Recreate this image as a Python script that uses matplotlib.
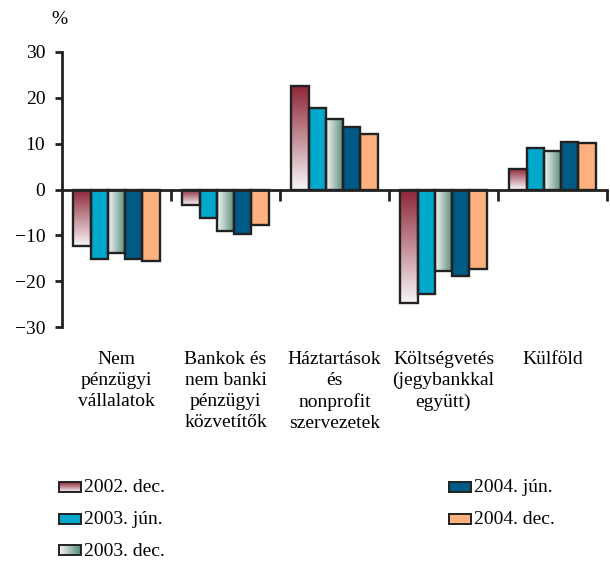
import numpy as np
import matplotlib.pyplot as plt
from matplotlib.colors import to_rgb
from matplotlib.patches import Rectangle

plt.rcParams['font.family'] = ['Liberation Serif', 'DejaVu Serif']

# adatok (leolvasva az abrarol)
categories = ["Nem\npénzügyi\nvállalatok",
              "Bankok és\nnem banki\npénzügyi\nközvetítők",
              "Háztartások\nés\nnonprofit\nszervezetek",
              "Költségvetés\n(jegybankkal\negyütt)",
              "Külföld"]
series = ["2002. dec.", "2003. jún.", "2003. dec.", "2004. jún.", "2004. dec."]
dec_2002 = [-12.4, -3.3, 22.6, -24.7, 4.4]
jun_2003 = [-15.2, -6.3, 17.7, -22.8, 9.1]
dec_2003 = [-13.9, -9.0, 15.3, -17.8, 8.4]
jun_2004 = [-15.2, -9.8, 13.6, -18.9, 10.3]
dec_2004 = [-15.7, -7.7, 12.2, -17.4, 10.1]
yticks = [-30, -20, -10, 0, 10, 20, 30]

values = [dec_2002, jun_2003, dec_2003, jun_2004, dec_2004]

# kitoltesek: ('v', felso, also) fuggoleges atmenet, ('h', bal, jobb), ('s', szin)
fills = [('v', '#8e2537', '#f6f4f6'),
         ('s', '#00a8cc'),
         ('h', '#f4f6f6', '#558a76'),
         ('s', '#005a86'),
         ('s', '#fdb17e')]
edge = '#222222'
fs = 14


def grad(c1, c2, vertical):
    t = np.linspace(0, 1, 64)[:, None]
    arr = (1 - t) * np.array(to_rgb(c1)) + t * np.array(to_rgb(c2))
    return arr[:, None, :] if vertical else arr[None, :, :]


def fill_rect(axis, x0, x1, ylo, yhi, f, z=2):
    if f[0] == 's':
        axis.add_patch(Rectangle((x0, ylo), x1 - x0, yhi - ylo, facecolor=f[1],
                                 edgecolor='none', zorder=z))
    else:
        img = grad(f[1], f[2], f[0] == 'v')
        axis.imshow(img, extent=[x0, x1, ylo, yhi], origin='upper',
                    aspect='auto', interpolation='bilinear', zorder=z)


fig = plt.figure(figsize=(6.1, 5.62), dpi=100)
ax = fig.add_axes([62 / 610, 1 - 327 / 562, 545 / 610, 275 / 562])

x = np.arange(len(categories)) + 0.5
w = 0.158
for i, vals in enumerate(values):
    bars = ax.bar(x + (i - 2) * w, vals, w, facecolor='none', edgecolor=edge,
                  linewidth=1.7, zorder=3)
    for b in bars:
        x0 = b.get_x()
        y0 = b.get_y()
        h = b.get_height()
        fill_rect(ax, x0, x0 + b.get_width(), min(y0, y0 + h), max(y0, y0 + h), fills[i])

ax.set_xlim(0, 5)
ax.set_ylim(-30, 30)
ax.set_yticks(yticks)
ax.set_yticklabels([str(t).replace('-', '\u2212') for t in yticks], fontsize=fs)
ax.set_xticks([1, 2, 3, 4, 5])
ax.set_xticklabels([])
for s in ['top', 'right']:
    ax.spines[s].set_visible(False)
ax.spines['bottom'].set_position(('data', 0))
ax.spines['bottom'].set_zorder(4)
ax.spines['left'].set_linewidth(2)
ax.spines['bottom'].set_linewidth(2)
ax.spines['left'].set_color(edge)
ax.spines['bottom'].set_color(edge)
ax.tick_params(axis='y', direction='out', length=5, width=2, pad=7, color=edge)
ax.tick_params(axis='x', direction='out', length=8, width=2, color=edge)

for xc, lab in zip(x, categories):
    ax.text(xc, -35.2, lab, ha='center', va='top', multialignment='center',
            fontsize=fs, linespacing=1.32)

fig.text(59 / 610, 1 - 20 / 562, '%', ha='center', va='center', fontsize=fs)

# jelmagyarazat kezzel
lax = fig.add_axes([0, 0, 1, 1])
lax.set_xlim(0, 610)
lax.set_ylim(562, 0)
lax.axis('off')
leg_pos = [(59, 487), (59, 519), (59, 550), (449, 487), (449, 519)]
for (lx, ly), name, f in zip(leg_pos, series, fills):
    fill_rect(lax, lx, lx + 22, ly + 5, ly - 5, f, z=2)
    lax.add_patch(Rectangle((lx, ly - 5), 22, 10, facecolor='none',
                            edgecolor=edge, linewidth=1.4, zorder=3))
    lax.text(lx + 25, ly + 1, name, ha='left', va='center', fontsize=fs)

fig.savefig('out.png', dpi=100)
